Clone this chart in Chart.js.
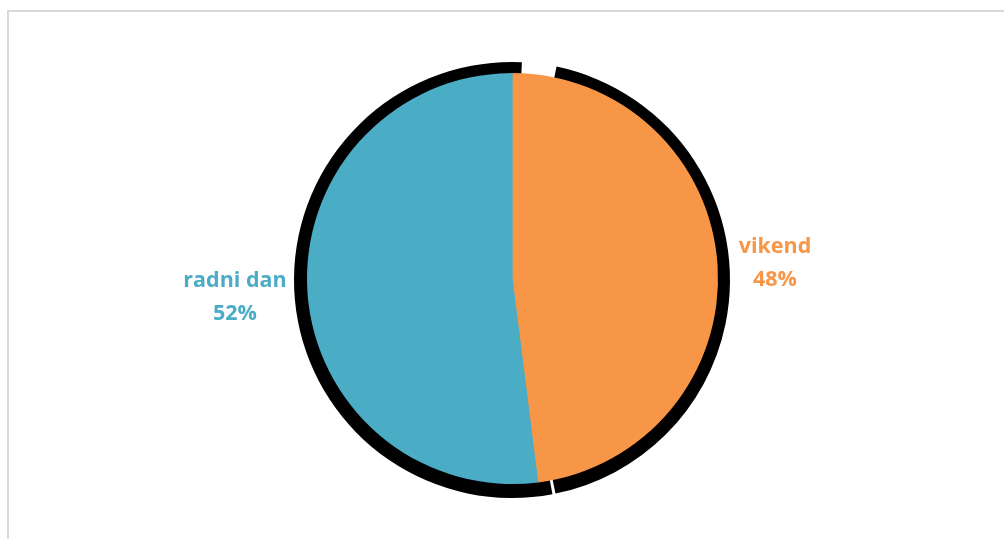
<!DOCTYPE html>
<html>
<head>
<meta charset="utf-8">
<script src="https://cdn.jsdelivr.net/npm/chart.js@4/dist/chart.umd.min.js"></script>
<style>
  html, body { margin: 0; padding: 0; background: #fff; }
  #wrap { position: relative; width: 1004px; height: 539px; overflow: hidden; }
  #frame { position: absolute; left: 7px; top: 10px; width: 1100px; height: 700px;
           border-left: 2px solid #D9D9D9; border-top: 2px solid #D9D9D9; box-sizing: border-box; }
  canvas { position: absolute; left: 0; top: 0; }
</style>
</head>
<body>
<div id="wrap">
  <div id="frame"></div>
  <canvas id="c" width="1004" height="539"></canvas>
</div>
<script>
const categories = ['vikend', 'radni dan'];
const values = [48, 52];
const colors = ['#F79646', '#4BACC6'];

const deg = Math.PI / 180;

const shadowPlugin = {
  id: 'sliceShadow',
  beforeDatasetsDraw(chart) {
    const meta = chart.getDatasetMeta(0);
    const trims = [[11.8, -4.3], [-3.5, 2.6]];
    const ctx = chart.ctx;
    ctx.save();
    ctx.fillStyle = '#000';
    meta.data.forEach((arc, i) => {
      const p = arc.getProps(['x', 'y', 'startAngle', 'endAngle', 'outerRadius'], true);
      const cx = p.x - 0.5, cy = p.y + 1.5;
      const r = p.outerRadius + 12.5;
      ctx.beginPath();
      ctx.moveTo(cx, cy);
      ctx.arc(cx, cy, r, p.startAngle + trims[i][0] * deg, p.endAngle + trims[i][1] * deg);
      ctx.closePath();
      ctx.fill();
    });
    // neutral underlay so the seam between slices does not show the shadow
    const a0 = meta.data[0].getProps(['x', 'y', 'outerRadius'], true);
    ctx.fillStyle = '#A1A186';
    ctx.beginPath();
    ctx.arc(a0.x, a0.y, a0.outerRadius - 1, 0, Math.PI * 2);
    ctx.fill();
    ctx.restore();
  }
};

const labelPlugin = {
  id: 'outerLabels',
  afterDatasetsDraw(chart) {
    const meta = chart.getDatasetMeta(0);
    const ds = chart.data.datasets[0];
    const total = ds.data.reduce((a, b) => a + b, 0);
    const ctx = chart.ctx;
    const spots = [[775, 247], [235, 281]];
    ctx.save();
    ctx.font = 'bold 21.5px "Open Sans"';
    ctx.textAlign = 'center';
    ctx.textBaseline = 'middle';
    meta.data.forEach((arc, i) => {
      const pct = Math.round(ds.data[i] / total * 100) + '%';
      ctx.fillStyle = ds.backgroundColor[i];
      ctx.fillText(chart.data.labels[i], spots[i][0], spots[i][1]);
      ctx.fillText(pct, spots[i][0], spots[i][1] + 33);
    });
    ctx.restore();
  }
};

new Chart(document.getElementById('c'), {
  type: 'pie',
  data: {
    labels: categories,
    datasets: [{
      data: values,
      backgroundColor: colors,
      borderWidth: 0
    }]
  },
  options: {
    responsive: false,
    animation: false,
    layout: { padding: { top: 73, bottom: 55, left: 100, right: 79 } },
    plugins: {
      legend: { display: false },
      tooltip: { enabled: false }
    }
  },
  plugins: [shadowPlugin, labelPlugin]
});
</script>
</body>
</html>
